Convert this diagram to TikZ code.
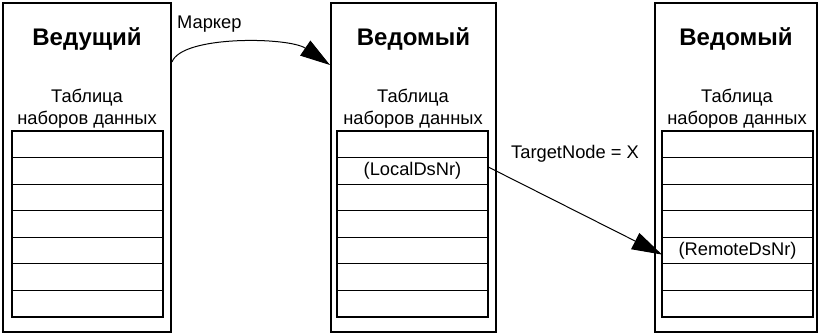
\documentclass[tikz,border=0pt]{standalone}
\usepackage{fontspec}
\setmainfont{Liberation Sans}
\usetikzlibrary{positioning,arrows.meta}

\tikzset{
  station/.style={draw, line width=2pt, minimum width=#1, minimum height=329pt, inner sep=0pt},
  title/.style={font=\fontsize{24}{28}\selectfont\bfseries, anchor=base, inner sep=0pt},
  caption/.style={font=\fontsize{18.3}{22}\selectfont, align=center, anchor=base, inner sep=0pt},
  row/.style={draw, line width=1pt, minimum width=151pt, minimum height=26.57pt, inner sep=0pt,
    outer sep=0pt, font=\fontsize{18.3}{20}\selectfont},
  tableframe/.style={line width=2pt},
  link/.style={line width=1pt, -{Triangle[length=30pt,width=18pt]}},
  label/.style={font=\fontsize{18.3}{20}\selectfont, anchor=base west, inner sep=0pt}
}

\begin{document}
\begin{tikzpicture}[x=1pt,y=1pt]
\useasboundingbox (0,0) rectangle (818,333);

% the three stations
\node[station=168pt] (lead) at (87,165.5) {};
\node[station=165pt] (slvA) at (413.5,165.5) {};
\node[station=162pt] (slvB) at (736,165.5) {};

\node[title] (leadname) at (87,288) {Ведущий};
\node[title] (slvAname) at (413.5,288) {Ведомый};
\node[title] (slvBname) at (736,288) {Ведомый};

\node[caption] (leadcap) at (87,209) {Таблица\\наборов данных};
\node[caption] (slvAcap) at (413,209) {Таблица\\наборов данных};
\node[caption] (slvBcap) at (737,209) {Таблица\\наборов данных};

% data set tables
\node[row] (lead1) at (87.5,188.7) {};
\node[row] (slvA1) at (412.5,188.7) {};
\node[row] (slvB1) at (737.5,188.7) {};
\foreach \i [count=\j from 2] in {1,...,6} {
  \node[row, below=0pt of lead\i] (lead\j) {};
  \node[row, below=0pt of slvA\i] (slvA\j) {\ifnum\j=2 (LocalDsNr)\fi};
  \node[row, below=0pt of slvB\i] (slvB\j) {\ifnum\j=5 (RemoteDsNr)\fi};
}
\foreach \t in {lead,slvA,slvB}
  \draw[tableframe] (\t1.north west) rectangle (\t7.south east);

% token and target links
\node[label] (marker) at (177,305) {Маркер};
\draw[link] ([yshift=105.5pt]lead.east) .. controls +(10,27) and +(-41,28) .. ([yshift=102.5pt]slvA.west);

\node[label] (target) at (511,175) {TargetNode = X};
\draw[link] ([yshift=4pt]slvA2.east) -- ([yshift=-4pt]slvB5.west);
\end{tikzpicture}
\end{document}
